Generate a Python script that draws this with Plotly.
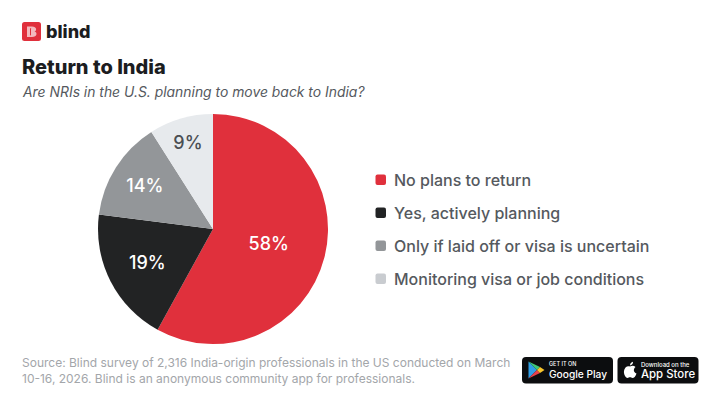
import plotly.graph_objects as go

WIDTH = 720
HEIGHT = 405

labels = ["No plans to return", "Yes, actively planning", "Only if laid off or visa is uncertain", "Monitoring visa or job conditions"]
values = [58, 19, 14, 9]
slice_colors = ["#e0303c", "#222324", "#939699", "#e7eaed"]
key_colors = ["#e0303c", "#222324", "#939699", "#c9ccd0"]
text_colors = ["#ffffff", "#ffffff", "#ffffff", "#4a4e53"]
legend_y = [180, 213, 246, 279]

title = "Return to India"
subtitle = "Are NRIs in the U.S. planning to move back to India?"
source_lines = ["Source: Blind survey of 2,316 India-origin professionals in the US conducted on March",
                "10-16, 2026. Blind is an anonymous community app for professionals."]


def px(x):
    return x / WIDTH


def py(y):
    return 1 - y / HEIGHT


def poly(points, color):
    d = "M" + " L".join(f"{px(x):.5f},{py(y):.5f}" for x, y in points) + " Z"
    return dict(type="path", xref="paper", yref="paper", path=d, fillcolor=color, line_width=0, layer="above")


def curve(segments, color):
    d = ""
    for p in segments:
        d += p[0]
        for i in range(1, len(p), 2):
            d += f" {px(p[i]):.5f},{py(p[i + 1]):.5f} "
    d += "Z"
    return dict(type="path", xref="paper", yref="paper", path=d, fillcolor=color, line_width=0, layer="above")


def round_rect(x0, y0, x1, y1, r, color):
    return curve([("M", x0 + r, y0), ("L", x1 - r, y0), ("Q", x1, y0, x1, y0 + r), ("L", x1, y1 - r),
                  ("Q", x1, y1, x1 - r, y1), ("L", x0 + r, y1), ("Q", x0, y1, x0, y1 - r), ("L", x0, y0 + r),
                  ("Q", x0, y0, x0 + r, y0)], color)


def text(x, y, s, size, color, weight=400, style="normal", family="Inter"):
    # annotations carry about 2px of padding on the left
    return dict(x=px(x - 2), y=py(y), xref="paper", yref="paper", text=s, showarrow=False, xanchor="left", yanchor="middle",
                align="left", font=dict(family=family, size=size, color=color, weight=weight, style=style))


fig = go.Figure()
fig.add_trace(go.Pie(
    labels=labels, values=values, sort=False, direction="clockwise", rotation=0,
    marker=dict(colors=slice_colors, line=dict(width=0)),
    texttemplate="%{value}%", textposition="inside", insidetextorientation="horizontal",
    textfont=dict(family="Inter", size=18, color=text_colors, weight=500),
    domain=dict(x=[px(98), px(328)], y=[py(344), py(114)]),
    showlegend=False, hoverinfo="label+percent",
))

shapes = []
annotations = []

# logo
shapes.append(round_rect(22, 22, 41, 41, 2.5, "#e0303c"))
shapes.append(curve([("M", 27, 26.5), ("L", 32, 26.5), ("C", 37, 26.5, 37, 31, 34.5, 31.5), ("C", 37.5, 32, 37.5, 37, 32, 37),
                     ("L", 27, 37)], "#f3b9bd"))
shapes.append(round_rect(30, 28, 31, 35.5, 0.4, "#e0303c"))
annotations.append(text(45.5, 31.5, "blind", 18, "#1c1d1f", 800))

annotations.append(text(22, 67, title, 20, "#1c1d1f", 800))
annotations.append(text(22, 92, subtitle, 13.9, "#55595e", 400, "italic"))

# legend
for name, color, y in zip(labels, key_colors, legend_y):
    shapes.append(round_rect(375.5, y - 5.5, 386, y + 5, 2, color))
    annotations.append(text(394, y, name, 16, "#55595e", 500))

# source note
annotations.append(text(22, 362, source_lines[0], 12, "#a3a6aa"))
annotations.append(text(22, 378, source_lines[1], 12, "#a3a6aa"))

# store badges
shapes.append(round_rect(522, 357, 613, 383.5, 4, "#0c0d0f"))
shapes.append(round_rect(617.5, 357, 698.5, 383.5, 4, "#0c0d0f"))
shapes.append(poly([(528.5, 361.5), (528.5, 378.5), (537, 370)], "#2f9fe8"))
shapes.append(poly([(528.5, 361.5), (537, 370), (540, 367)], "#3fc878"))
shapes.append(poly([(528.5, 378.5), (537, 370), (540, 373)], "#e8404a"))
shapes.append(poly([(540, 367), (537, 370), (540, 373), (544.5, 370)], "#f8c52c"))
annotations.append(text(549, 363.5, "GET IT ON", 5.5, "#ffffff", 500))
annotations.append(text(549, 373.5, "Google Play", 10.2, "#ffffff", 500))

# apple glyph
shapes.append(curve([("M", 630, 366.5), ("C", 632, 365.2, 634, 365.5, 635.5, 367), ("C", 633, 369, 633.5, 372.5, 636.5, 373.5),
                     ("C", 635.5, 376.5, 634, 378, 632.5, 378), ("C", 631.5, 378, 631, 377.3, 630, 377.3),
                     ("C", 629, 377.3, 628.5, 378, 627.5, 378), ("C", 625.5, 378, 623.5, 374, 624, 371),
                     ("C", 624.3, 367.5, 627.5, 365.2, 630, 366.5)], "#ffffff"))
shapes.append(curve([("M", 630, 365.5), ("C", 630, 363.5, 631.5, 362, 633, 361.8), ("C", 633.2, 363.8, 631.7, 365.4, 630, 365.5)], "#ffffff"))
annotations.append(text(641, 364.5, "Download on the", 6, "#ffffff", 500))
annotations.append(text(641, 374, "App Store", 11.4, "#ffffff", 500))

fig.update_layout(
    width=WIDTH, height=HEIGHT,
    margin=dict(l=0, r=0, t=0, b=0),
    paper_bgcolor="#ffffff", plot_bgcolor="#ffffff",
    shapes=shapes, annotations=annotations,
    showlegend=False,
)

# page body has a default margin, drop it so the figure fills the window
fig.write_html("out.html", config=dict(displayModeBar=False), post_script="document.body.style.margin='0';")
